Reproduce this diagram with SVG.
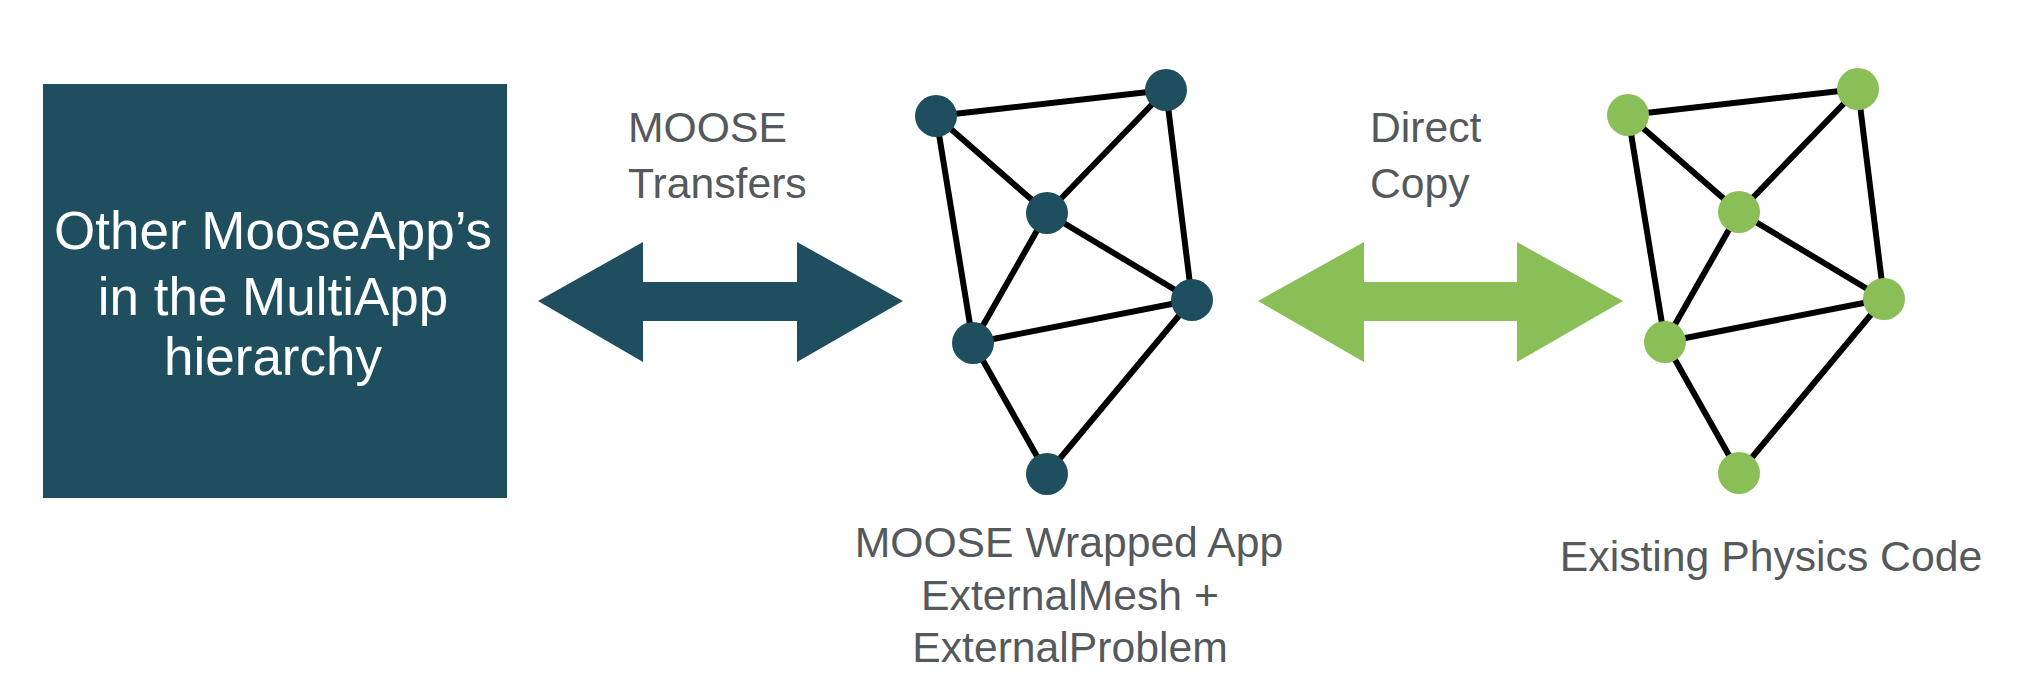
<svg xmlns="http://www.w3.org/2000/svg" width="2034" height="680" viewBox="0 0 2034 680">
<style>
.lbl{font-family:"Liberation Sans",Arial,sans-serif;font-size:42.7px;fill:#55595c}
.box{font-family:"Liberation Sans",Arial,sans-serif;font-size:53px;fill:#ffffff}
.edge{stroke:#000;stroke-width:6;stroke-linecap:round}
.dk{fill:#1f4f5f}
.gr{fill:#8abe57}
</style>
<defs>
<g id="edges">
<line x1="936" y1="116" x2="1166" y2="90"/>
<line x1="936" y1="116" x2="1047" y2="213"/>
<line x1="936" y1="116" x2="973" y2="343"/>
<line x1="1166" y1="90" x2="1047" y2="213"/>
<line x1="1166" y1="90" x2="1192" y2="300"/>
<line x1="1047" y1="213" x2="1192" y2="300"/>
<line x1="1047" y1="213" x2="973" y2="343"/>
<line x1="973" y1="343" x2="1192" y2="300"/>
<line x1="973" y1="343" x2="1047" y2="474"/>
<line x1="1192" y1="300" x2="1047" y2="474"/>
</g>
<g id="nodes">
<circle cx="936" cy="116" r="21"/>
<circle cx="1166" cy="90" r="21"/>
<circle cx="1047" cy="213" r="21"/>
<circle cx="1192" cy="300" r="21"/>
<circle cx="973" cy="343" r="21"/>
<circle cx="1047" cy="474" r="21"/>
</g>
</defs>
<rect width="2034" height="680" fill="#ffffff"/>
<g id="other-apps">
<rect x="43" y="84" width="464" height="414" class="dk"/>
<text class="box" text-anchor="middle"><tspan x="273" y="249">Other MooseApp’s</tspan><tspan x="273" y="315">in the MultiApp</tspan><tspan x="273" y="375">hierarchy</tspan></text>
</g>
<g id="connectors">
<polygon class="dk" points="538,301 643,242 643,282 797,282 797,242 903,301 797,362 797,321 643,321 643,362"/>
<polygon class="gr" points="1258,301 1364,242 1364,282 1517,282 1517,242 1623,301 1517,362 1517,321 1364,321 1364,362"/>
<text class="lbl"><tspan x="628" y="142">MOOSE</tspan><tspan x="628" y="198">Transfers</tspan></text>
<text class="lbl"><tspan x="1370" y="142">Direct</tspan><tspan x="1370" y="198">Copy</tspan></text>
</g>
<g id="wrapped-app">
<use href="#edges" class="edge"/>
<use href="#nodes" class="dk"/>
<text class="lbl" text-anchor="middle"><tspan x="1069" y="557">MOOSE Wrapped App</tspan><tspan x="1070" y="610">ExternalMesh +</tspan><tspan x="1070" y="662">ExternalProblem</tspan></text>
</g>
<g id="physics-code">
<use href="#edges" class="edge" transform="translate(692,-1)"/>
<use href="#nodes" class="gr" transform="translate(692,-1)"/>
<text class="lbl" text-anchor="middle" x="1771" y="571">Existing Physics Code</text>
</g>
</svg>
